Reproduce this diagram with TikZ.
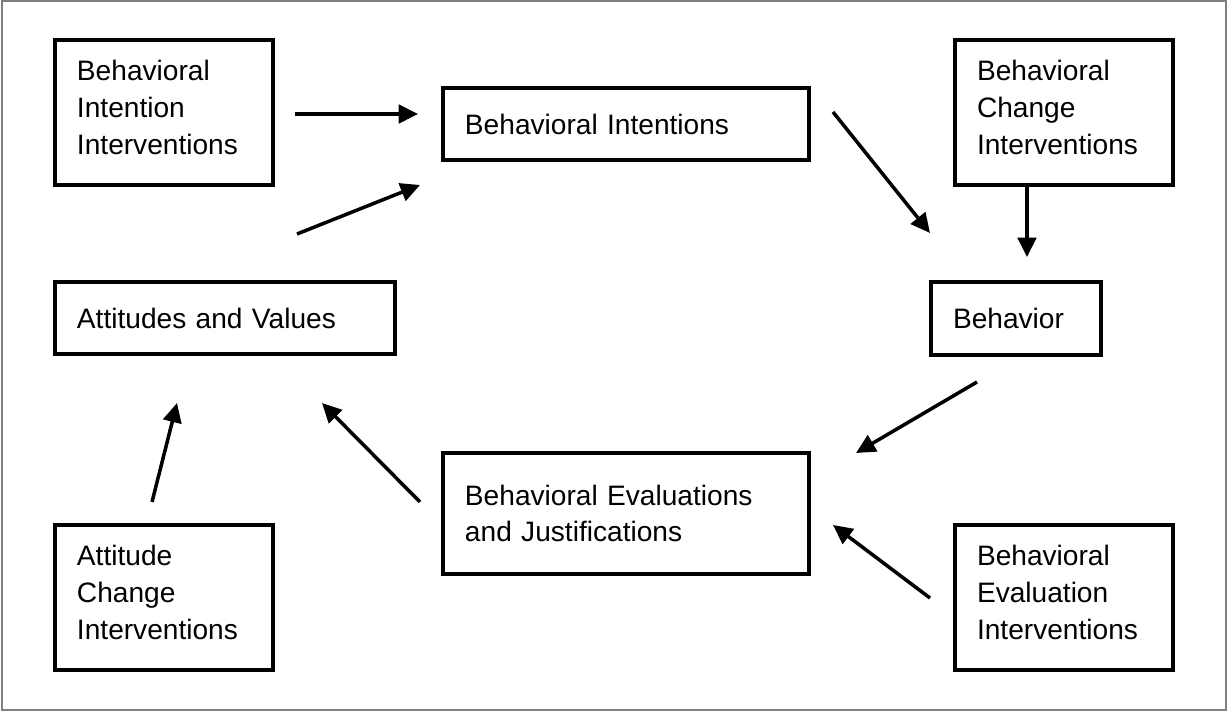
\documentclass[tikz,border=0pt]{standalone}
\usepackage{fontspec}
\setmainfont{Liberation Sans}
\usepackage{tikz}
\usetikzlibrary{arrows.meta}

\tikzset{
  box/.style={draw, line width=2.2pt, outer sep=0pt, anchor=north west, inner xsep=0.44cm,
              align=left, font=\fontsize{16}{21}\selectfont},
  tallbox/.style={box, text width=3.48cm, minimum width=4.36cm, minimum height=2.9cm,
              execute at end node={\rule[-6pt]{0pt}{0pt}}},
  arr/.style={line width=2pt, -{Triangle[length=11pt,width=10.5pt]}}
}

\begin{document}
\begin{tikzpicture}[x=0.02cm, y=-0.02cm]

%%%%------------Ramme----------------%%
\useasboundingbox (0,0) rectangle (1228,712);
\draw [gray, line width=0.6pt] (2,1) rectangle (1226,710);

%%%%------------Bokser----------------%%
\node [tallbox] (bii) at (55,40) {Behavioral\\Intention\\Interventions};
\node [box, text width=6.44cm, minimum width=7.32cm, minimum height=1.44cm] (bi) at (443,88)
  {Behavioral Intentions};
\node [tallbox] (bci) at (955,40) {Behavioral\\Change\\Interventions};
\node [box, text width=5.92cm, minimum width=6.8cm, minimum height=1.44cm] (av) at (55,282)
  {Attitudes and Values};
\node [box, text width=2.52cm, minimum width=3.4cm, minimum height=1.46cm] (b) at (931,282)
  {Behavior};
\node [box, text width=6.44cm, minimum width=7.32cm, minimum height=2.42cm] (bej) at (443,453)
  {Behavioral Evaluations\\and Justifications};
\node [tallbox] (aci) at (55,525) {Attitude\\Change\\Interventions};
\node [tallbox] (bei) at (955,525) {Behavioral\\Evaluation\\Interventions};

%%%%------------Pilendepunkter----------------%%
\coordinate (bii-out) at (295,114);  \coordinate (bi-in1) at (418,114);
\coordinate (av-out)  at (297,234);  \coordinate (bi-in2) at (420,185);
\coordinate (bi-out)  at (833,112);  \coordinate (b-in1)  at (930,233);
\coordinate (bci-out) at (1027,187); \coordinate (b-in2)  at (1027,257);
\coordinate (b-out)   at (977,382);  \coordinate (bej-in1) at (856,453);
\coordinate (bei-out) at (930,598);  \coordinate (bej-in2) at (833,525);
\coordinate (bej-out) at (420,502);  \coordinate (av-in1) at (322,403);
\coordinate (aci-out) at (152,502);  \coordinate (av-in2) at (177,403);

%%%%------------Piler----------------%%
\draw [arr] (bii-out) -- (bi-in1);
\draw [arr] (av-out) -- (bi-in2);
\draw [arr] (bi-out) -- (b-in1);
\draw [arr] (bci-out) -- (b-in2);
\draw [arr] (b-out) -- (bej-in1);
\draw [arr] (bei-out) -- (bej-in2);
\draw [arr] (bej-out) -- (av-in1);
\draw [arr] (aci-out) -- (av-in2);

\end{tikzpicture}
\end{document}
